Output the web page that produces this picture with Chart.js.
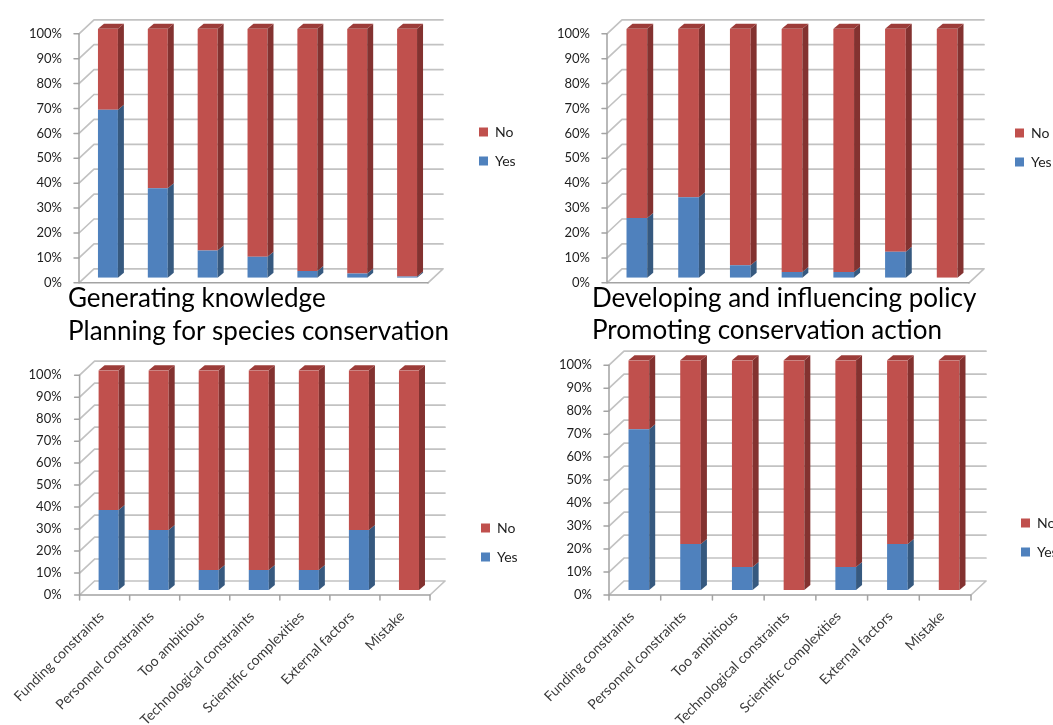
<!DOCTYPE html>
<html>
<head>
<meta charset="utf-8">
<script src="https://cdn.jsdelivr.net/npm/chart.js@4/dist/chart.umd.min.js"></script>
<style>
  html, body { margin: 0; padding: 0; background: #fff; width: 1053px; height: 725px; overflow: hidden; position: relative; }
  .panel { position: absolute; }
  .panel canvas { display: block; }
</style>
</head>
<body>
<div class="panel" id="pGenerating"><canvas></canvas></div>
<div class="panel" id="pPolicy"><canvas></canvas></div>
<div class="panel" id="pPlanning"><canvas></canvas></div>
<div class="panel" id="pAction"><canvas></canvas></div>
<script>
// Reasons for setbacks, share of Yes / No answers per conservation area
const categories = [
  'Funding constraints', 'Personnel constraints', 'Too ambitious',
  'Technological constraints', 'Scientific complexities', 'External factors', 'Mistake'
];
const tickLabels = ['0%', '10%', '20%', '30%', '40%', '50%', '60%', '70%', '80%', '90%', '100%'];
const seriesNames = ['Yes', 'No'];

const yesGenerating = [67.5, 36, 11, 8.5, 2.7, 1.7, 0.5];
const noGenerating  = [32.5, 64, 89, 91.5, 97.3, 98.3, 99.5];

const yesPolicy = [24, 32.3, 5, 2.3, 2.3, 10.5, 0];
const noPolicy  = [76, 67.7, 95, 97.7, 97.7, 89.5, 100];

const yesPlanning = [36.4, 27.3, 9.1, 9.1, 9.1, 27.3, 0];
const noPlanning  = [63.6, 72.7, 90.9, 90.9, 90.9, 72.7, 100];

const yesAction = [70, 20, 10, 0, 10, 20, 0];
const noAction  = [30, 80, 90, 100, 90, 80, 100];

// Face colours of the pseudo-3D columns
const FACES = {
  Yes: { front: '#4F81BD', side: '#36597F', top: '#416C9E' },
  No:  { front: '#C0504D', side: '#833230', top: '#9C3C39' }
};
// Depth offsets relative to the plane of the column fronts
const DEPTH = {
  bar:   { dx: 6,  dy: -5 },
  back:  { dx: 11, dy: -9 },
  front: { dx: -4, dy: 5 }
};

Chart.defaults.font.family = 'Lato, "Liberation Sans", Arial, sans-serif';
Chart.defaults.color = '#222';

// Walls, floor and axes drawn around the columns, plus the columns' side and top faces
const frame3d = {
  id: 'frame3d',
  beforeDatasetsDraw(chart, args, opts) {
    const { ctx, chartArea: a, scales: { x, y } } = chart;
    const F = DEPTH.front, B = DEPTH.back;
    const values = y.ticks.map(t => t.value);
    const py = v => y.getPixelForValue(v);
    const p0 = py(0);
    ctx.save();
    ctx.lineCap = 'round';
    ctx.lineWidth = 1.7;
    ctx.strokeStyle = '#c2c2c2';
    ctx.beginPath();
    values.forEach(v => {
      const yy = py(v);
      ctx.moveTo(a.left + B.dx, yy + B.dy);
      ctx.lineTo(a.right + B.dx, yy + B.dy);
      ctx.moveTo(a.left + F.dx, yy + F.dy);
      ctx.lineTo(a.left + B.dx, yy + B.dy);
    });
    ctx.moveTo(a.right + F.dx, p0 + F.dy);
    ctx.lineTo(a.right + B.dx, p0 + B.dy);
    ctx.stroke();

    ctx.strokeStyle = '#a3a3a3';
    ctx.lineWidth = 1.5;
    ctx.beginPath();
    ctx.moveTo(a.left + F.dx, py(100) + F.dy);
    ctx.lineTo(a.left + F.dx, p0 + F.dy);
    ctx.lineTo(a.right + F.dx, p0 + F.dy);
    values.forEach(v => {
      ctx.moveTo(a.left + F.dx - 5, py(v) + F.dy);
      ctx.lineTo(a.left + F.dx, py(v) + F.dy);
    });
    if (opts.categoryTicks) {
      const n = chart.data.labels.length;
      for (let i = 0; i <= n; i++) {
        const px = x.getPixelForValue(i - 0.5) + F.dx;
        ctx.moveTo(px, p0 + F.dy);
        ctx.lineTo(px, p0 + F.dy + 5);
      }
    }
    ctx.stroke();
    ctx.restore();
  },
  afterDatasetsDraw(chart) {
    const { ctx } = chart;
    const D = DEPTH.bar;
    const metas = chart.getSortedVisibleDatasetMetas();
    const n = chart.data.labels.length;
    ctx.save();
    for (let i = 0; i < n; i++) {
      let topBar = null;
      metas.forEach(meta => {
        const el = meta.data[i];
        if (!el) return;
        const { x, y, base, width } = el.getProps(['x', 'y', 'base', 'width'], true);
        if (Math.abs(base - y) < 0.05) return;
        const faces = FACES[meta.label];
        const r = x + width / 2;
        ctx.fillStyle = faces.side;
        ctx.beginPath();
        ctx.moveTo(r, y);
        ctx.lineTo(r + D.dx, y + D.dy);
        ctx.lineTo(r + D.dx, base + D.dy);
        ctx.lineTo(r, base);
        ctx.closePath();
        ctx.fill();
        if (!topBar || y < topBar.y) topBar = { x, y, width, faces };
      });
      if (topBar) {
        const l = topBar.x - topBar.width / 2, r = topBar.x + topBar.width / 2;
        ctx.fillStyle = topBar.faces.top;
        ctx.beginPath();
        ctx.moveTo(l, topBar.y);
        ctx.lineTo(l + D.dx, topBar.y + D.dy);
        ctx.lineTo(r + D.dx, topBar.y + D.dy);
        ctx.lineTo(r, topBar.y);
        ctx.closePath();
        ctx.fill();
      }
    }
    ctx.restore();
  }
};

// Puts the legend's first entry at a fixed height beside the plot
const legendPlacement = {
  id: 'legendPlacement',
  afterLayout(chart, args, opts) {
    const lg = chart.legend;
    if (!lg || opts.boxTop == null) return;
    const pad = lg.options.labels.padding;
    const h = lg.bottom - lg.top;
    lg.top = opts.boxTop - 2 - pad;
    lg.bottom = lg.top + h;
  }
};

function makePanel(cfg) {
  const wrap = document.getElementById(cfg.id);
  wrap.style.left = cfg.left + 'px';
  wrap.style.top = cfg.top + 'px';
  const canvas = wrap.querySelector('canvas');
  canvas.width = cfg.width;
  canvas.height = cfg.height;
  return new Chart(canvas, {
    type: 'bar',
    data: {
      labels: categories,
      datasets: [
        { label: seriesNames[0], data: cfg.yes, backgroundColor: FACES.Yes.front, xAxisID: 'x', yAxisID: 'y' },
        { label: seriesNames[1], data: cfg.no, backgroundColor: FACES.No.front, xAxisID: 'x', yAxisID: 'y' }
      ]
    },
    options: {
      responsive: false,
      animation: false,
      events: [],
      layout: { autoPadding: false, padding: cfg.pad },
      datasets: { bar: { categoryPercentage: 1, barPercentage: 0.4 } },
      scales: {
        x: {
          stacked: true,
          offset: true,
          grid: { display: false, drawTicks: false },
          border: { display: false },
          ticks: {
            display: cfg.showLabels,
            autoSkip: false,
            minRotation: 45,
            maxRotation: 45,
            padding: 18,
            labelOffset: -7,
            color: '#3a3a3a',
            font: { size: 14 }
          },
          afterFit: s => { s.height = cfg.xAxisH; }
        },
        y: {
          stacked: true,
          min: 0,
          max: 100,
          grid: { display: false, drawTicks: false },
          border: { display: false },
          ticks: {
            stepSize: 10,
            padding: cfg.tickPad,
            labelOffset: 5,
            color: '#1e1e1e',
            font: { size: 13 },
            callback: (v, i) => tickLabels[i]
          },
          afterFit: s => {
            s.width = cfg.yAxisW;
            // labels sit left of the narrow axis box, so they must not be clipped to it
            s._computeLabelArea = () => undefined;
          }
        },
        legendGap: {
          type: 'linear',
          axis: 'y',
          position: 'right',
          grid: { display: false, drawTicks: false },
          border: { display: false },
          ticks: { display: false },
          afterFit: s => { s.width = cfg.gapW; }
        }
      },
      plugins: {
        legend: {
          position: 'right',
          fullSize: false,
          align: 'start',
          reverse: true,
          maxWidth: 60,
          labels: { boxWidth: 9, boxHeight: 9, padding: 15, color: '#1e1e1e', font: { size: 14 } }
        },
        title: {
          display: true,
          text: cfg.title,
          position: cfg.titlePos,
          align: 'start',
          color: '#000',
          font: { size: 26, weight: 'normal' },
          padding: cfg.titlePad
        },
        tooltip: { enabled: false },
        frame3d: { categoryTicks: cfg.showLabels },
        legendPlacement: { boxTop: cfg.legendTop }
      }
    },
    plugins: [frame3d, legendPlacement]
  });
}

makePanel({
  id: 'pGenerating', left: 0, top: 0, width: 540, height: 320,
  pad: { left: 68, top: 22, right: 16, bottom: 0 },
  yAxisW: 15, tickPad: 21, gapW: 32, xAxisH: 5, showLabels: false, legendTop: 127,
  title: 'Generating knowledge', titlePos: 'bottom', titlePad: { top: 0, bottom: 6 },
  yes: yesGenerating, no: noGenerating
});
makePanel({
  id: 'pPolicy', left: 520, top: 0, width: 540, height: 320,
  pad: { left: 72, top: 22, right: 0, bottom: 0 },
  yAxisW: 19, tickPad: 21, gapW: 27, xAxisH: 5, showLabels: false, legendTop: 128,
  title: 'Developing and influencing policy', titlePos: 'bottom', titlePad: { top: 0, bottom: 6 },
  yes: yesPolicy, no: noPolicy
});
makePanel({
  id: 'pPlanning', left: 0, top: 315, width: 540, height: 410,
  pad: { left: 68, top: 0, right: 14, bottom: 0 },
  yAxisW: 9, tickPad: 22, gapW: 32, xAxisH: 135, showLabels: true, legendTop: 208,
  title: 'Planning for species conservation', titlePos: 'top', titlePad: { top: 1, bottom: 23 },
  yes: yesPlanning, no: noPlanning
});
makePanel({
  id: 'pAction', left: 520, top: 315, width: 546, height: 410,
  pad: { left: 72, top: 0, right: 0, bottom: 0 },
  yAxisW: 21, tickPad: 21, gapW: 31, xAxisH: 135, showLabels: true, legendTop: 203,
  title: 'Promoting conservation action', titlePos: 'top', titlePad: { top: 0, bottom: 14 },
  yes: yesAction, no: noAction
});
</script>
</body>
</html>
